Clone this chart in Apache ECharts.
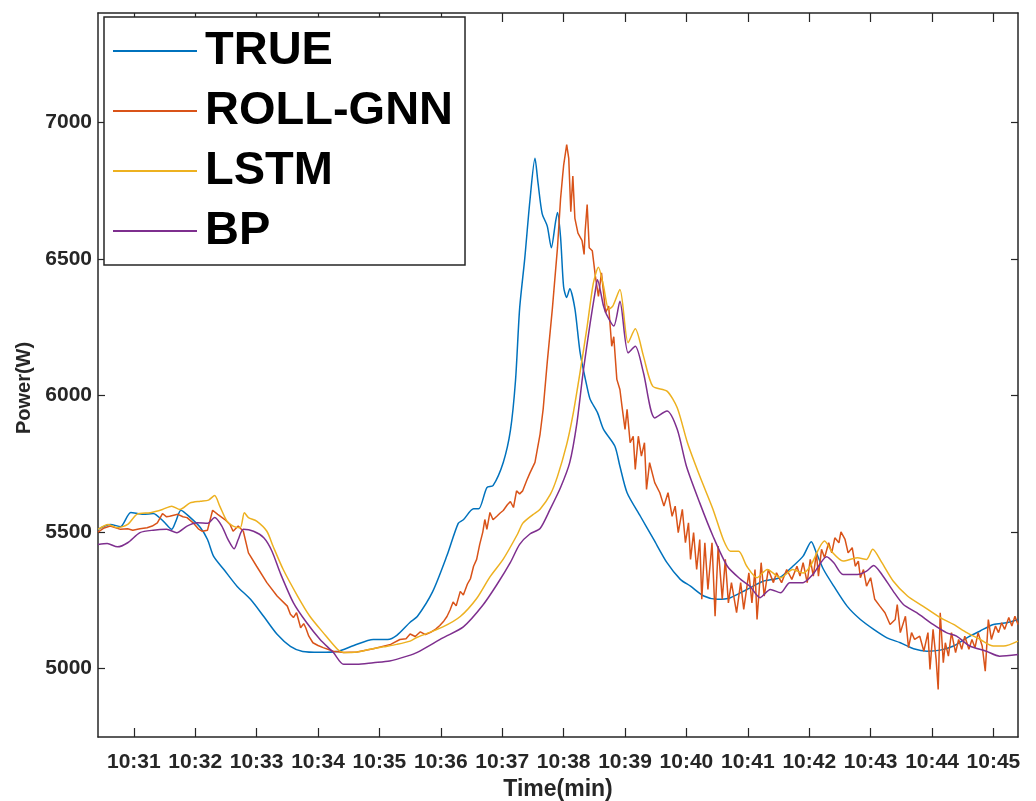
<!DOCTYPE html>
<html>
<head>
<meta charset="utf-8">
<script src="https://cdn.jsdelivr.net/npm/echarts@6/dist/echarts.min.js"></script>
<style>
html,body{margin:0;padding:0;background:#fff;}
#chart{width:1036px;height:801px;}
</style>
</head>
<body>
<div id="chart"></div>
<script>
// x values: seconds after 10:30:00 ; y values: power in W
const seriesNames = ['TRUE', 'ROLL-GNN', 'LSTM', 'BP'];
const tickSeconds = [60,120,180,240,300,360,420,480,540,600,660,720,780,840,900];
const yTicks = [5000, 5500, 6000, 6500, 7000];

const trueData = [[25,5510],[37,5528],[47,5520],[57,5572],[69,5565],[79,5568],[89,5539],[97,5510],[101,5539],[106,5580],[115,5554],[125,5517],[132,5473],[138,5411],[148,5363],[161,5301],[174,5254],[187,5191],[200,5126],[213,5082],[225,5063],[242,5060],[259,5063],[275,5085],[294,5107],[308,5107],[317,5122],[330,5170],[337,5191],[352,5282],[366,5414],[377,5532],[382,5545],[392,5585],[397,5585],[405,5663],[411,5670],[421,5755],[428,5872],[433,6056],[437,6318],[442,6501],[447,6711],[452,6868],[455,6777],[459,6666],[464,6620],[468,6541],[472,6633],[474,6670],[477,6580],[480,6397],[483,6359],[486,6391],[491,6318],[496,6160],[503,6029],[506,5985],[513,5938],[519,5876],[530,5815],[535,5741],[542,5644],[555,5558],[568,5473],[581,5388],[594,5327],[604,5302],[617,5266],[630,5254],[643,5260],[659,5290],[675,5320],[691,5333],[704,5375],[714,5412],[722,5465],[727,5424],[734,5363],[744,5302],[757,5229],[770,5180],[783,5144],[796,5113],[809,5095],[822,5073],[835,5064],[848,5068],[861,5083],[874,5113],[887,5138],[900,5162],[913,5168],[924,5180]];

const gnnData = [[25,5500],[31,5515],[37,5522],[47,5510],[54,5512],[59,5507],[66,5512],[73,5516],[78,5522],[83,5534],[88,5568],[92,5556],[95,5558],[99,5562],[103,5565],[108,5556],[112,5553],[118,5534],[123,5512],[127,5503],[132,5507],[137,5580],[142,5565],[149,5546],[154,5528],[157,5503],[162,5522],[167,5503],[172,5424],[180,5375],[190,5315],[200,5266],[210,5229],[213,5199],[216,5187],[219,5205],[223,5150],[226,5165],[228,5150],[231,5119],[235,5095],[240,5085],[245,5077],[255,5064],[265,5059],[278,5061],[294,5073],[311,5089],[320,5107],[326,5110],[330,5127],[335,5118],[340,5135],[345,5125],[350,5133],[355,5145],[359,5158],[363,5175],[366,5191],[369,5215],[372,5244],[375,5230],[379,5283],[382,5270],[386,5310],[389,5330],[392,5375],[395,5400],[398,5455],[401,5500],[403,5546],[405,5510],[408,5572],[411,5545],[415,5559],[418,5570],[421,5579],[425,5600],[428,5612],[431,5590],[434,5651],[437,5640],[440,5651],[444,5690],[447,5716],[452,5755],[457,5859],[460,5950],[464,6122],[469,6318],[474,6541],[477,6720],[479,6803],[480,6842],[483,6918],[485,6868],[487,6673],[489,6803],[491,6648],[494,6594],[498,6567],[500,6516],[501,6600],[503,6699],[505,6541],[508,6530],[511,6437],[514,6363],[517,6449],[521,6303],[524,6327],[527,6180],[529,6215],[532,6059],[535,6022],[537,5961],[540,5876],[542,5949],[545,5827],[548,5851],[550,5729],[553,5851],[556,5778],[559,5827],[561,5656],[564,5754],[569,5681],[574,5644],[578,5595],[582,5644],[586,5558],[589,5595],[592,5498],[596,5583],[599,5461],[602,5534],[604,5400],[607,5498],[610,5363],[613,5473],[615,5254],[618,5461],[621,5290],[625,5461],[628,5192],[631,5449],[635,5254],[638,5400],[641,5241],[644,5315],[649,5205],[653,5315],[656,5217],[661,5351],[664,5241],[667,5363],[669,5180],[673,5388],[676,5266],[680,5363],[685,5315],[688,5351],[693,5315],[698,5363],[703,5327],[708,5375],[711,5339],[714,5388],[718,5315],[721,5400],[724,5339],[727,5424],[729,5339],[732,5437],[735,5406],[739,5461],[742,5424],[745,5479],[749,5461],[751,5501],[755,5473],[758,5424],[762,5443],[765,5375],[768,5394],[770,5333],[773,5363],[776,5302],[780,5333],[784,5254],[789,5229],[794,5205],[799,5162],[804,5180],[806,5235],[809,5132],[814,5192],[817,5077],[820,5132],[823,5107],[828,5119],[832,5064],[836,5132],[838,4997],[841,5144],[844,5034],[846,4924],[848,5205],[851,5022],[853,5095],[856,5046],[859,5132],[863,5059],[866,5107],[869,5071],[872,5119],[876,5071],[879,5107],[882,5077],[885,5132],[889,5083],[892,4991],[895,5180],[898,5107],[902,5156],[905,5132],[908,5168],[911,5144],[915,5187],[918,5156],[921,5192],[924,5162]];

const lstmData = [[25,5510],[35,5528],[44,5516],[54,5528],[63,5565],[76,5571],[88,5583],[97,5595],[105,5583],[115,5607],[125,5613],[133,5617],[139,5634],[144,5595],[151,5540],[157,5522],[164,5516],[168,5571],[172,5553],[180,5540],[190,5503],[196,5449],[206,5363],[220,5266],[232,5192],[245,5132],[259,5071],[265,5059],[278,5061],[291,5071],[304,5080],[317,5089],[330,5101],[337,5115],[362,5153],[379,5191],[395,5257],[408,5336],[421,5401],[435,5493],[440,5532],[450,5564],[457,5584],[467,5638],[474,5704],[483,5821],[489,5927],[496,6084],[503,6253],[509,6410],[514,6469],[519,6400],[524,6315],[528,6327],[535,6388],[543,6193],[550,6244],[558,6144],[567,6034],[581,6016],[591,5955],[601,5827],[613,5705],[626,5583],[636,5473],[643,5430],[651,5430],[659,5375],[669,5333],[679,5363],[692,5333],[704,5363],[714,5350],[721,5375],[735,5467],[743,5424],[753,5394],[767,5406],[776,5400],[782,5437],[791,5388],[802,5321],[816,5266],[831,5229],[848,5187],[861,5162],[874,5132],[887,5107],[900,5083],[910,5083],[924,5101]];

const bpData = [[25,5455],[34,5458],[44,5446],[54,5461],[66,5498],[79,5507],[92,5510],[102,5498],[112,5522],[122,5534],[132,5532],[139,5553],[146,5522],[152,5473],[158,5439],[162,5473],[167,5510],[177,5503],[187,5479],[195,5430],[203,5351],[216,5241],[229,5168],[242,5107],[255,5059],[265,5016],[278,5016],[294,5022],[310,5028],[327,5046],[337,5060],[362,5113],[382,5153],[401,5232],[415,5309],[428,5389],[437,5455],[447,5493],[457,5513],[467,5585],[477,5663],[486,5755],[493,5900],[499,6084],[506,6267],[511,6384],[513,6424],[519,6327],[522,6296],[529,6254],[535,6345],[543,6156],[550,6180],[558,6083],[569,5918],[581,5943],[591,5876],[600,5741],[613,5607],[626,5485],[640,5375],[653,5327],[662,5302],[672,5260],[682,5290],[692,5278],[701,5315],[714,5315],[724,5347],[737,5410],[744,5388],[753,5345],[767,5345],[776,5357],[783,5378],[791,5345],[802,5284],[812,5235],[825,5205],[841,5162],[854,5132],[864,5119],[877,5083],[893,5064],[906,5046],[924,5052]];

const seriesColors = ['#0072BD', '#D95319', '#EDB120', '#7E2F8E'];

const FONT = '"Liberation Sans", Arial, Helvetica, sans-serif';
const AX = '#262626';

function timeLabel(v) {
  const m = 30 + Math.round(v / 60);
  return '10:' + (m < 10 ? '0' + m : m);
}

const chart = echarts.init(document.getElementById('chart'), null, {renderer: 'canvas'});

const axisLine = {show: true, onZero: false, lineStyle: {color: AX, width: 1.5}};

const option = {
  animation: false,
  backgroundColor: '#ffffff',
  grid: {left: 98, top: 13, right: 18, bottom: 64, containLabel: false, outerBoundsMode: 'none'},
  legend: {
    data: seriesNames,
    orient: 'vertical',
    left: 104,
    top: 17,
    padding: [9, 12, 9, 9],
    itemGap: 10,
    itemWidth: 84,
    itemHeight: 2,
    icon: 'rect',
    backgroundColor: '#ffffff',
    borderColor: AX,
    borderWidth: 1.5,
    textStyle: {fontSize: 47, fontWeight: 'bold', color: '#000', fontFamily: FONT, lineHeight: 50, padding: [0, 0, 0, 3]}
  },
  xAxis: [
    {
      type: 'value', min: 25, max: 924, position: 'bottom',
      axisLine: axisLine,
      axisTick: {show: true, inside: true, length: 9, customValues: tickSeconds, lineStyle: {color: AX, width: 1.2}},
      axisLabel: {customValues: tickSeconds, formatter: timeLabel, fontSize: 21, fontWeight: 'bold', color: AX, fontFamily: FONT, margin: 15},
      splitLine: {show: false},
      name: 'Time(min)', nameLocation: 'middle', nameGap: 40,
      nameTextStyle: {fontSize: 23, fontWeight: 'bold', color: AX, fontFamily: FONT}
    },
    {
      type: 'value', min: 25, max: 924, position: 'top',
      axisLine: axisLine,
      axisTick: {show: true, inside: true, length: 9, customValues: tickSeconds, lineStyle: {color: AX, width: 1.2}},
      axisLabel: {show: false},
      splitLine: {show: false}
    }
  ],
  yAxis: [
    {
      type: 'value', min: 4750, max: 7400, position: 'left',
      axisLine: axisLine,
      axisTick: {show: true, inside: true, length: 7, customValues: yTicks, lineStyle: {color: AX, width: 1.2}},
      axisLabel: {customValues: yTicks, formatter: v => String(v), fontSize: 21, fontWeight: 'bold', color: AX, fontFamily: FONT, margin: 6},
      splitLine: {show: false},
      name: 'Power(W)', nameLocation: 'middle', nameGap: 48,
      nameTextStyle: {fontSize: 20, fontWeight: 'bold', color: AX, fontFamily: FONT, padding: [0, 26, 0, 0]}
    },
    {
      type: 'value', min: 4750, max: 7400, position: 'right',
      axisLine: axisLine,
      axisTick: {show: true, inside: true, length: 7, customValues: yTicks, lineStyle: {color: AX, width: 1.2}},
      axisLabel: {show: false},
      splitLine: {show: false}
    }
  ],
  series: [trueData, gnnData, lstmData, bpData].map((d, i) => ({
    name: seriesNames[i],
    type: 'line',
    data: d,
    xAxisIndex: 0,
    yAxisIndex: 0,
    symbol: 'none',
    showSymbol: false,
    smooth: i === 1 ? false : 0.25,
    color: seriesColors[i],
    lineStyle: {color: seriesColors[i], width: 1.5},
    clip: true
  }))
};

chart.setOption(option);
</script>
</body>
</html>
